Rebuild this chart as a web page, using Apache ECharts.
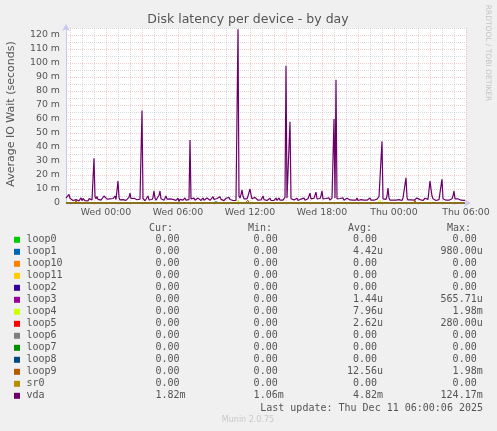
<!DOCTYPE html>
<html><head><meta charset="utf-8">
<script src="https://cdn.jsdelivr.net/npm/echarts@6/dist/echarts.min.js"></script>
<style>html,body{margin:0;padding:0;background:#f0f0f0}#c{width:497px;height:431px}</style>
</head><body><div id="c"></div>
<script>
// 5-minute samples, Tue 20:40 -> Thu 06:00 (400 samples), values in milliseconds
const vda = [
3.5,2.6,4.2,6.2,3.4,2.2,3.0,1.8,2.6,1.6,
2.4,3.4,2.0,1.5,2.8,3.6,1.7,3.2,2.0,1.6,
2.9,1.9,1.5,3.1,3.8,1.8,2.2,2.6,32.0,4.5,
3.0,4.6,2.6,3.8,2.5,2.0,3.4,3.0,5.0,6.0,
4.5,2.8,2.0,1.6,3.0,2.4,1.8,3.2,3.5,5.0,
2.5,3.0,15.7,4.0,2.2,3.6,3.0,2.4,1.8,3.2,
1.9,2.6,2.5,4.0,7.0,3.2,2.0,1.8,3.4,2.0,
3.2,2.3,1.8,3.0,2.8,4.0,66.0,3.2,2.2,1.6,
2.6,1.8,5.0,2.2,1.7,3.0,2.5,4.0,8.6,3.5,
2.0,3.4,3.0,5.5,8.6,3.0,2.0,3.6,2.0,3.0,
5.0,2.8,2.0,1.6,2.9,3.3,1.7,2.6,1.8,3.4,
1.9,1.6,3.4,1.06,2.6,1.7,3.5,2.0,1.8,3.6,
2.0,3.2,3.0,2.4,45.0,3.0,2.2,1.8,3.5,2.0,
2.4,3.4,3.5,4.5,2.2,1.8,2.6,3.6,2.0,2.2,
2.0,3.6,4.5,2.8,1.9,3.2,2.0,4.5,2.5,2.0,
1.8,3.2,2.0,3.0,4.5,2.6,2.2,3.0,1.7,2.0,
3.4,2.2,3.0,4.0,2.5,2.0,2.9,1.8,1.6,2.6,
1.8,2.5,124.17,5.0,3.5,6.0,9.3,5.0,3.0,2.6,
2.2,3.0,5.0,7.5,10.0,6.0,3.0,2.2,2.8,4.0,
5.0,2.6,2.0,3.4,3.0,2.2,2.8,5.0,2.4,2.0,
3.2,1.8,2.6,2.0,3.4,1.8,2.0,3.2,1.9,2.0,
3.5,1.8,2.2,3.6,2.0,1.7,3.3,2.0,3.0,4.0,
98.0,3.5,2.2,3.0,58.0,3.0,2.0,3.6,2.2,1.8,
2.0,3.4,1.8,2.2,3.0,2.8,2.2,1.8,3.5,2.0,
2.2,1.9,3.0,4.0,7.0,3.0,2.0,1.8,3.4,2.0,
7.8,3.0,2.2,2.6,3.2,5.0,8.6,3.0,2.0,1.8,
3.2,2.0,1.8,3.6,2.0,2.2,3.5,3.0,60.0,3.5,
88.0,3.0,2.0,1.7,3.2,1.8,2.0,3.6,2.0,2.2,
1.8,3.4,2.0,3.0,2.2,1.9,3.4,2.0,1.7,3.2,
2.0,3.6,1.8,2.2,3.0,2.4,1.9,3.2,2.0,1.8,
3.4,2.0,2.2,1.8,3.6,2.0,2.2,2.9,2.0,2.4,
2.2,2.8,3.0,4.5,3.5,4.0,44.0,3.0,2.2,2.0,
2.6,5.0,10.7,3.5,2.0,1.8,3.2,2.0,2.4,1.8,
2.0,3.2,1.9,2.4,3.0,2.2,1.8,3.6,3.0,4.0,
18.0,4.0,2.2,2.0,3.6,2.2,1.8,3.0,2.0,2.2,
2.0,3.5,2.2,4.5,2.4,2.0,3.2,1.8,2.0,3.4,
2.2,2.0,2.6,3.5,15.7,10.0,5.0,3.0,2.2,2.0,
1.8,3.2,2.0,2.4,3.0,2.2,17.0,3.0,2.0,1.8,
2.0,3.4,2.2,2.0,1.8,3.2,3.0,5.0,8.6,3.0,
2.4,2.0,3.0,2.2,3.6,2.0,1.8,2.0,1.9,1.82
];
// non-zero samples of the loop devices [sampleIndex, ms]; all other samples are 0
const loop1Nonzero = [[150, 0.98]];
const loop3Nonzero = [[260, 0.57]];
const loop4Nonzero = [[172, 1.98], [314, 1.98]];
const loop5Nonzero = [[90, 0.28]];
const loop9Nonzero = [[10, 1.98], [182, 1.98], [349, 1.98]];

const seriesNames = ['loop0','loop1','loop10','loop11','loop2','loop3','loop4','loop5','loop6','loop7','loop8','loop9','sr0','vda'];
const curVals = ['0.00','0.00','0.00','0.00','0.00','0.00','0.00','0.00','0.00','0.00','0.00','0.00','0.00','1.82m'];
const minVals = ['0.00','0.00','0.00','0.00','0.00','0.00','0.00','0.00','0.00','0.00','0.00','0.00','0.00','1.06m'];
const avgVals = ['0.00','4.42u','0.00','0.00','0.00','1.44u','7.96u','2.62u','0.00','0.00','0.00','12.56u','0.00','4.82m'];
const maxVals = ['0.00','980.00u','0.00','0.00','0.00','565.71u','1.98m','280.00u','0.00','0.00','0.00','1.98m','0.00','124.17m'];

const hourTicks = [4,16,28,40,52,64,76,88,100,112,124,136,148,160,172,184,196,208,220,232,244,256,268,280,292,304,316,328,340,352,364,376,388,400];
const labelTicks = [40,112,184,256,328,400];
const tickLabels = ['Wed 00:00','Wed 06:00','Wed 12:00','Wed 18:00','Thu 00:00','Thu 06:00'];
const N = 400;

// styles
const colors = ['#00cc00','#0066b3','#ff8000','#ffcc00','#330099','#990099','#ccff00','#ff0000','#808080','#008f00','#00487d','#b35a00','#b38f00','#6b006b'];
const MAJOR = 'rgba(215,120,120,0.36)';
const MINOR = 'rgba(150,150,150,0.36)';
const TXT = '#555';

function fullSeries(nonzero) {
  const arr = [];
  for (let i = 0; i < N; i++) arr.push([i, 0]);
  (nonzero || []).forEach(([i, v]) => { arr[i] = [i, v]; });
  return arr;
}
const nonzeroMap = { loop1: loop1Nonzero, loop3: loop3Nonzero, loop4: loop4Nonzero, loop5: loop5Nonzero, loop9: loop9Nonzero };

const series = seriesNames.map((name, k) => ({
  name, type: 'line', showSymbol: false, symbol: 'none', animation: false,
  lineStyle: { width: name === 'vda' ? 1.2 : 1, color: colors[k] }, itemStyle: { color: colors[k] },
  data: name === 'vda' ? vda.map((v, i) => [i, v]) : fullSeries(nonzeroMap[name]),
  z: 2 + k
}));

const chart = echarts.init(document.getElementById('c'), null, { renderer: 'canvas' });

const mono = 'DejaVu Sans Mono';
const graphics = [];
graphics.push({ type: 'text', x: 248, y: 19.5, style: { text: 'Disk latency per device - by day', fill: TXT, font: '12.5px "DejaVu Sans"', textAlign: 'center', textVerticalAlign: 'middle' } });
graphics.push({ type: 'text', x: 11, y: 114, rotation: Math.PI / 2, style: { text: 'Average IO Wait (seconds)', fill: TXT, font: '11px "DejaVu Sans"', textAlign: 'center', textVerticalAlign: 'middle' } });
graphics.push({ type: 'text', x: 487.5, y: 53, rotation: -Math.PI / 2, style: { text: 'RRDTOOL / TOBI OETIKER', fill: '#c4c4c4', font: '7.5px "DejaVu Sans"', textAlign: 'center', textVerticalAlign: 'middle' } });

const colEnds = [179.5, 277.7, 377, 476.7];
const headers = ['Cur:', 'Min:', 'Avg:', 'Max:'];
const headerX = [149, 248, 348, 447];
headers.forEach((h, j) => graphics.push({ type: 'text', x: headerX[j], y: 228, style: { text: h, fill: TXT, font: '10px ' + mono, textAlign: 'left', textVerticalAlign: 'middle' } }));
const cols = [curVals, minVals, avgVals, maxVals];
seriesNames.forEach((name, k) => {
  const y = 239.8 + 12 * k;
  graphics.push({ type: 'rect', shape: { x: 14, y: y - 3, width: 6, height: 6 }, style: { fill: colors[k] } });
  graphics.push({ type: 'text', x: 26.5, y, style: { text: name, fill: TXT, font: '10px ' + mono, textVerticalAlign: 'middle' } });
  cols.forEach((col, j) => {
    const m = col[k].match(/^([0-9.]+)([a-zA-Z]*)$/);
    graphics.push({ type: 'text', x: colEnds[j], y, style: { text: m[1], fill: TXT, font: '10px ' + mono, textAlign: 'right', textVerticalAlign: 'middle' } });
    if (m[2]) graphics.push({ type: 'text', x: colEnds[j], y, style: { text: m[2], fill: TXT, font: '10px ' + mono, textAlign: 'left', textVerticalAlign: 'middle' } });
  });
});
graphics.push({ type: 'text', x: 483, y: 408, style: { text: 'Last update: Thu Dec 11 06:00:06 2025', fill: TXT, font: '10px ' + mono, textAlign: 'right', textVerticalAlign: 'middle' } });
graphics.push({ type: 'text', x: 248, y: 420, style: { text: 'Munin 2.0.75', fill: '#c8c8c8', font: '8px "DejaVu Sans"', textAlign: 'center', textVerticalAlign: 'middle' } });

chart.setOption({
  backgroundColor: '#f0f0f0',
  animation: false,
  grid: { left: 66, top: 28, width: 400, height: 175, show: true, backgroundColor: '#ffffff', borderWidth: 0, containLabel: false },
  xAxis: {
    type: 'value', min: 0, max: N,
    axisLine: { show: true, onZero: false, lineStyle: { color: '#c8c8f0', width: 1 }, symbol: ['none', 'arrow'], symbolSize: [6, 7], symbolOffset: [0, 5] },
    axisTick: { show: true, customValues: hourTicks, length: 2, lineStyle: { color: MAJOR } },
    axisLabel: { customValues: labelTicks, color: TXT, fontFamily: 'DejaVu Sans', fontSize: 9.4, margin: 5,
      formatter: v => { const idx = labelTicks.indexOf(Math.round(v)); return idx >= 0 ? tickLabels[idx] : ''; } },
    splitLine: { show: true, showMinLine: true, showMaxLine: true, lineStyle: { color: [MAJOR, MINOR, MINOR], type: [1, 1], width: 1 } }
  },
  yAxis: {
    type: 'value', min: 0, max: 125, interval: 5,
    axisLine: { show: true, lineStyle: { color: '#c8c8f0', width: 1 }, symbol: ['none', 'arrow'], symbolSize: [6, 7], symbolOffset: [0, 4] },
    axisTick: { show: false },
    axisLabel: { color: TXT, fontFamily: 'DejaVu Sans', fontSize: 9.4, margin: 6, showMaxLabel: false,
      formatter: v => (v % 10 === 0 ? (v === 0 ? '0' : v + ' m') : '') },
    splitLine: { show: true, showMinLine: true, showMaxLine: true, lineStyle: { color: [MAJOR, MINOR], type: [1, 1], width: 1 } }
  },
  series,
  graphic: graphics
});
</script></body></html>
